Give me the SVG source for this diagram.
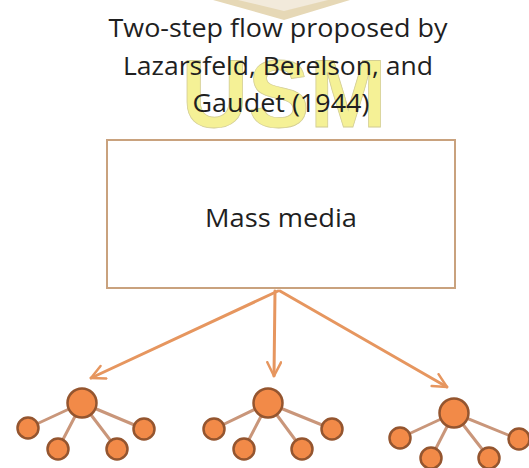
<svg xmlns="http://www.w3.org/2000/svg" width="529" height="468" viewBox="0 0 529 468">
<style>
.t{font-family:"Open Sans","Noto Sans","Liberation Sans",sans-serif;fill:#1f1f1f;text-anchor:middle}
.wm{font-family:"Liberation Sans",Arial,sans-serif;font-weight:bold;fill:#f3ee7c;stroke:#c9c27a;stroke-width:0.8;text-anchor:middle}
.ar{fill:none;stroke:#e6965f;stroke-width:3;stroke-linecap:round}
.br{stroke:#c9967a;stroke-width:3;stroke-linecap:round}
.big{fill:#f28a48;stroke:#94552f;stroke-width:2.5}
.sm{fill:#f28a48;stroke:#94552f;stroke-width:2.5}
</style>
<defs>
<marker id="ah" viewBox="0 0 12 12" refX="11" refY="6" markerWidth="5.5" markerHeight="5.5" orient="auto" markerUnits="strokeWidth">
<path d="M1,1 L11,6 L1,11" fill="none" stroke="#e6965f" stroke-width="1.8" stroke-linecap="round" stroke-linejoin="round"/>
</marker>
</defs>
<rect width="529" height="468" fill="#ffffff"/>
<g id="logo">
<polygon points="213,0 350,0 284,20" fill="#e6d8b6"/>
<polygon points="238,0 328,0 284,11" fill="#f2eadb"/>
</g>
<g id="watermark" opacity="0.8">
<text class="wm" x="284" y="127" font-size="96" textLength="205" lengthAdjust="spacingAndGlyphs">USM</text>
</g>
<g id="title">
<text class="t" x="278" y="37" font-size="25.5" textLength="339" lengthAdjust="spacingAndGlyphs">Two-step flow proposed by</text>
<text class="t" x="278" y="75" font-size="25.5" textLength="310" lengthAdjust="spacingAndGlyphs">Lazarsfeld, Berelson, and</text>
<text class="t" x="281" y="112" font-size="25.5" textLength="177" lengthAdjust="spacingAndGlyphs">Gaudet (1944)</text>
</g>
<g id="mass-media">
<rect x="107" y="140" width="348" height="148" fill="#ffffff" stroke="#c9a27e" stroke-width="2"/>
<text class="t" x="281" y="227" font-size="25.5" textLength="152" lengthAdjust="spacingAndGlyphs">Mass media</text>
</g>
<g id="connectors">
<line class="ar" x1="278" y1="291" x2="91" y2="378" marker-end="url(#ah)"/>
<line class="ar" x1="275" y1="291" x2="274" y2="376" marker-end="url(#ah)"/>
<line class="ar" x1="280" y1="291" x2="447" y2="387" marker-end="url(#ah)"/>
</g>
<g id="group-left">
<line class="br" x1="82" y1="403" x2="28" y2="428"/>
<line class="br" x1="82" y1="403" x2="58" y2="449"/>
<line class="br" x1="82" y1="403" x2="117" y2="449"/>
<line class="br" x1="82" y1="403" x2="144" y2="429"/>
<circle class="big" cx="82" cy="403" r="14.5"/>
<circle class="sm" cx="28" cy="428" r="10.5"/>
<circle class="sm" cx="58" cy="449" r="10.5"/>
<circle class="sm" cx="117" cy="449" r="10.5"/>
<circle class="sm" cx="144" cy="429" r="10.5"/>
</g>
<g id="group-middle">
<line class="br" x1="268" y1="403" x2="214" y2="429"/>
<line class="br" x1="268" y1="403" x2="244" y2="449"/>
<line class="br" x1="268" y1="403" x2="302" y2="449"/>
<line class="br" x1="268" y1="403" x2="332" y2="429"/>
<circle class="big" cx="268" cy="403" r="14.5"/>
<circle class="sm" cx="214" cy="429" r="10.5"/>
<circle class="sm" cx="244" cy="449" r="10.5"/>
<circle class="sm" cx="302" cy="449" r="10.5"/>
<circle class="sm" cx="332" cy="429" r="10.5"/>
</g>
<g id="group-right">
<line class="br" x1="454" y1="413" x2="400" y2="438"/>
<line class="br" x1="454" y1="413" x2="431" y2="458"/>
<line class="br" x1="454" y1="413" x2="489" y2="458"/>
<line class="br" x1="454" y1="413" x2="518" y2="439"/>
<circle class="big" cx="454" cy="413" r="14.5"/>
<circle class="sm" cx="400" cy="438" r="10.5"/>
<circle class="sm" cx="431" cy="458" r="10.5"/>
<circle class="sm" cx="489" cy="458" r="10.5"/>
<circle class="sm" cx="519" cy="439" r="10.5"/>
</g>
</svg>
